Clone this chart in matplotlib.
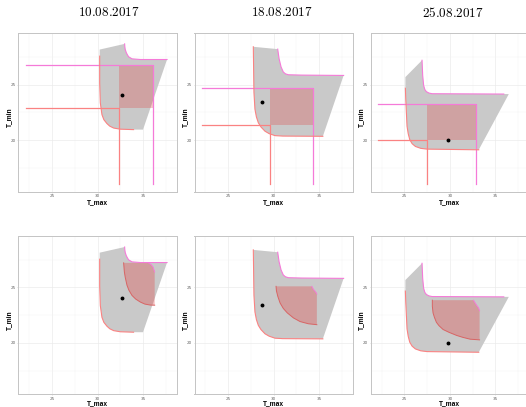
import matplotlib
matplotlib.use('Agg')
import matplotlib.pyplot as plt
from matplotlib.patches import Polygon, Rectangle
from matplotlib.ticker import MultipleLocator

plt.rcParams['mathtext.fontset'] = 'cm'

dates = ['10.08.2017', '18.08.2017', '25.08.2017']

# corners of the grey admissible region (T_max, T_min)
corner_tl = [(30.24, 28.14), (27.76, 28.39), (25.11, 25.67)]
corner_right = [(37.64, 27.25), (37.68, 25.82), (36.47, 24.15)]
corner_br = [(35.0, 20.96), (35.4, 20.36), (33.17, 19.15)]

# upper (pink) boundary, from top vertex to the right
upper_tmax = [
    [32.98, 33.0, 33.05, 33.17, 33.3, 33.42, 33.79, 34.71, 37.64],
    [30.44, 30.59, 30.81, 31.06, 31.3, 31.62, 33.09, 37.68],
    [26.94, 27.01, 27.12, 27.25, 27.42, 27.7, 28.04, 35.92],
]
upper_tmin = [
    [28.65, 28.4, 28.14, 27.85, 27.65, 27.49, 27.31, 27.25, 27.25],
    [28.18, 27.33, 26.58, 26.12, 25.96, 25.88, 25.85, 25.82],
    [27.18, 25.82, 24.91, 24.55, 24.36, 24.24, 24.18, 24.15],
]

# lower (red) boundary, from the left edge down and to the right
lower_tmax = [
    [30.24, 30.24, 30.31, 30.49, 30.7, 31.04, 31.35, 31.78, 32.5, 33.96],
    [27.76, 27.83, 27.94, 28.1, 28.31, 28.6, 29.04, 29.5, 30.15, 31.0, 35.4],
    [25.11, 25.15, 25.29, 25.42, 25.59, 25.85, 26.21, 26.8, 27.49, 33.17],
]
lower_tmin = [
    [27.55, 25.15, 23.36, 22.3, 21.85, 21.5, 21.27, 21.1, 21.0, 20.96],
    [28.39, 24.3, 22.79, 22.1, 21.58, 21.2, 20.82, 20.6, 20.42, 20.38, 20.36],
    [24.67, 23.7, 21.27, 20.6, 20.06, 19.7, 19.45, 19.28, 19.21, 19.15],
]

# observed day values
obs_tmax = [32.73, 28.71, 29.76]
obs_tmin = [24.07, 23.42, 20.0]

# box limits (top row)
box_lo_tmax = [32.4, 29.59, 27.49]
box_lo_tmin = [22.9, 21.33, 20.06]
box_hi_tmax = [36.1, 34.37, 32.88]
box_hi_tmin = [26.77, 24.67, 23.3]
tmax_floor = 22.12
tmin_floor = 16.05

# shaded band (bottom row)
band_tmax = [
    [32.87, 35.6, 35.9, 36.1, 36.2, 36.28, 36.28, 35.8, 35.2, 34.71, 34.2, 33.79, 33.45, 33.24, 33.05, 32.95],
    [30.26, 34.19, 34.37, 34.55, 34.67, 34.74, 34.74, 33.82, 32.9, 32.17, 31.5, 31.06, 30.7, 30.45, 30.3],
    [28.07, 32.59, 32.89, 33.15, 33.26, 33.26, 32.22, 31.4, 30.74, 29.9, 29.26, 28.8, 28.52, 28.3, 28.15, 28.07],
]
band_tmin = [
    [27.22, 27.22, 27.05, 26.85, 26.6, 26.4, 23.4, 23.41, 23.5, 23.68, 23.95, 24.28, 24.75, 25.2, 25.9, 26.41],
    [25.1, 25.1, 24.82, 24.65, 24.52, 24.4, 21.64, 21.72, 21.92, 22.25, 22.7, 23.1, 23.6, 24.2, 24.7],
    [23.85, 23.85, 23.45, 23.15, 22.9, 20.27, 20.33, 20.5, 20.67, 20.95, 21.2, 21.55, 21.85, 22.3, 22.7, 23.3],
]
# how many leading band points belong to the notch (pink) edge
band_notch = [6, 6, 5]

grey_fill = '#c9c9c9'
pink = '#f57ad8'
salmon = '#fa8282'
red_fill = '#e04848'

W, H = 526, 407
fig = plt.figure(figsize=(W / 100, H / 100), dpi=100)

col_left = [18.3, 194.5, 370.7]
ax_w = 158.4
row_top = [33.3, 236.5]
row_h = [158.3, 157.3]
xlabel_y = [203, 403.2]
title_x = [109, 282, 453]

for r in range(2):
    for i in range(3):
        ax = fig.add_axes([col_left[i] / W, 1 - (row_top[r] + row_h[r]) / H,
                           ax_w / W, row_h[r] / H])
        ax.set_xlim(21.3, 38.7)
        ax.set_ylim(15.4, 29.6)
        ax.xaxis.set_major_locator(MultipleLocator(5))
        ax.yaxis.set_major_locator(MultipleLocator(5))
        ax.xaxis.set_minor_locator(MultipleLocator(2.5))
        ax.yaxis.set_minor_locator(MultipleLocator(2.5))
        ax.grid(which='major', color='#ebebeb', lw=0.5)
        ax.grid(which='minor', color='#f3f3f3', lw=0.35)
        ax.set_axisbelow(True)
        for s in ax.spines.values():
            s.set_color('#c4c4c4')
            s.set_linewidth(0.7)
        ax.tick_params(which='both', length=1.0, width=0.4, color='#c4c4c4',
                       labelsize=3, labelcolor='#666666', pad=1.0)
        ax.tick_params(which='minor', length=0)
        ax.set_xlabel('T_max', fontsize=4.8, fontweight='bold', family='Liberation Sans')
        ax.set_ylabel('T_min', fontsize=4.8, fontweight='bold', family='Liberation Sans')
        bottom_px = row_top[r] + row_h[r]
        ax.xaxis.set_label_coords(0.5, -(xlabel_y[r] - bottom_px) / row_h[r])
        ax.xaxis.label.set_va('center')
        ax.yaxis.set_label_coords(-(col_left[i] - (10 + 176 * i)) / ax_w, 0.47)
        ax.yaxis.label.set_va('center')

        # grey region
        pts = [corner_tl[i]] + list(zip(upper_tmax[i], upper_tmin[i]))
        pts += [corner_right[i], corner_br[i]]
        pts += list(zip(lower_tmax[i], lower_tmin[i]))[::-1]
        ax.add_patch(Polygon(pts, closed=True, facecolor=grey_fill, edgecolor='none', zorder=2))

        if r == 0:
            x0, y0 = box_lo_tmax[i], box_lo_tmin[i]
            x1, y1 = box_hi_tmax[i], box_hi_tmin[i]
            ax.add_patch(Rectangle((x0, y0), x1 - x0, y1 - y0, facecolor=red_fill,
                                   alpha=0.3, edgecolor='none', zorder=3))
            ax.plot([tmax_floor, x1, x1], [y1, y1, tmin_floor], color=pink, lw=0.9, zorder=4)
            ax.plot([tmax_floor, x0, x0], [y0, y0, tmin_floor], color=salmon, lw=0.9, zorder=4)
        else:
            bpts = list(zip(band_tmax[i], band_tmin[i]))
            ax.add_patch(Polygon(bpts, closed=True, facecolor=red_fill, alpha=0.35,
                                 edgecolor='none', zorder=3))
            n = band_notch[i]
            ax.plot(band_tmax[i][1:n], band_tmin[i][1:n], color=pink, lw=0.7, zorder=4)
            ax.plot(band_tmax[i][n:] + [band_tmax[i][0]], band_tmin[i][n:] + [band_tmin[i][0]],
                    color='#d86464', lw=0.7, zorder=4)

        ax.plot(upper_tmax[i], upper_tmin[i], color=pink, lw=0.8, zorder=4)
        ax.plot(lower_tmax[i], lower_tmin[i], color=salmon, lw=0.8, zorder=4)
        ax.plot(obs_tmax[i], obs_tmin[i], 'o', color='black', ms=1.8, zorder=5)

for i in range(3):
    fig.text(title_x[i] / W, 1 - 13 / H, r'$\mathrm{' + dates[i] + '}$', fontsize=9.5,
             ha='center', va='center')

fig.savefig('out.png', dpi=100)
